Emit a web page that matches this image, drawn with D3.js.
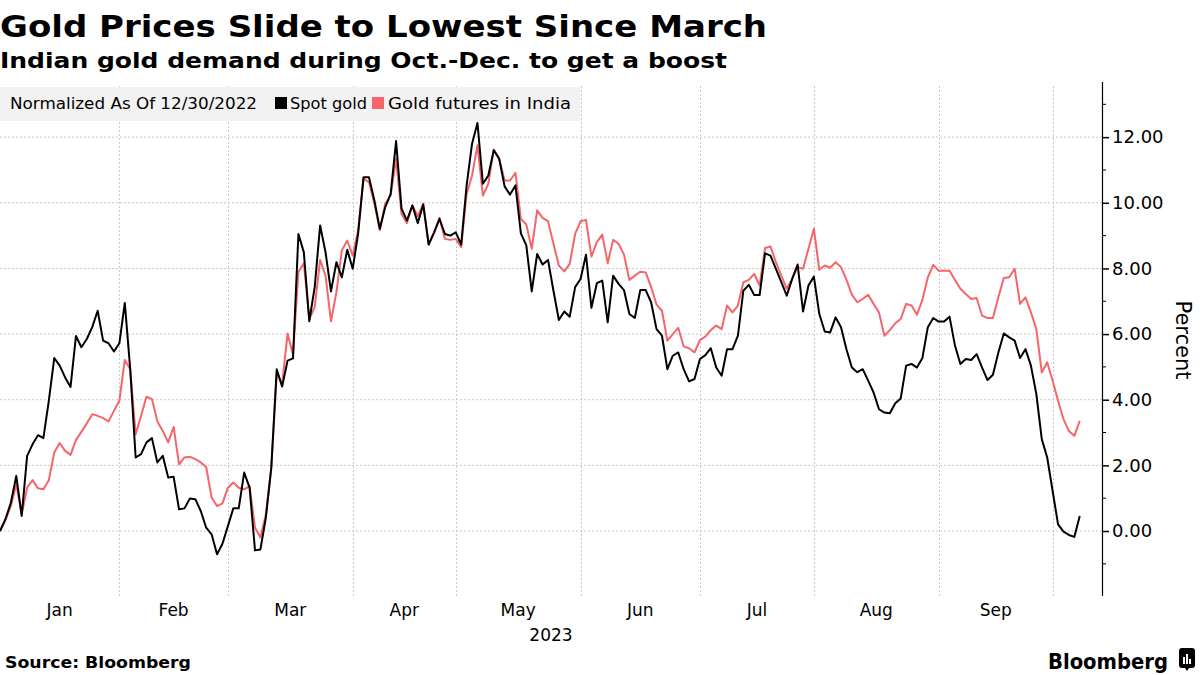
<!DOCTYPE html>
<html><head><meta charset="utf-8">
<script src="https://cdn.jsdelivr.net/npm/d3@7"></script>
<style>
html,body{margin:0;padding:0;background:#fff;}
svg{display:block;font-family:"DejaVu Sans",Verdana,sans-serif;}
</style></head>
<body>
<svg id="chart" width="1200" height="675"></svg>
<script>
// ---- data (normalized % change since 12/30/2022, one value per trading day) ----
const spotGold = [0.00,0.36,0.86,1.68,0.46,2.29,2.64,2.92,2.83,3.97,5.27,5.04,4.68,4.39,5.94,5.60,5.85,6.21,6.71,5.80,
5.72,5.47,5.72,6.95,4.93,2.24,2.34,2.70,2.83,2.09,2.29,1.63,1.65,0.66,0.69,0.99,0.97,0.61,0.10,-0.10,
-0.71,-0.39,0.15,0.69,0.69,1.78,1.32,-0.59,-0.56,0.41,1.93,4.93,4.40,5.19,5.26,9.05,8.49,6.39,7.43,9.31,
8.49,7.30,8.19,7.73,8.57,7.99,9.05,10.78,10.78,10.07,9.21,9.87,10.27,11.88,9.82,9.46,9.92,9.38,9.95,8.73,
9.10,9.51,9.05,9.00,9.10,8.73,10.53,11.80,12.43,10.58,10.83,11.60,11.34,10.50,10.25,10.53,9.07,8.70,7.30,8.44,
8.12,8.26,7.32,6.43,6.69,6.53,7.43,7.68,8.42,6.80,7.55,7.63,6.36,7.78,7.53,7.34,6.61,6.49,7.34,7.34,
6.97,6.15,5.95,4.93,5.34,5.44,4.93,4.56,4.63,5.24,5.36,5.57,4.98,4.73,5.54,5.54,5.95,7.32,7.50,7.19,
7.19,8.46,8.39,7.99,7.58,7.17,7.68,8.12,6.69,7.48,7.75,6.61,6.08,6.05,6.51,6.21,5.54,4.98,4.84,4.93,
4.58,4.22,3.71,3.61,3.59,3.89,4.04,5.04,5.09,4.98,5.27,6.21,6.49,6.38,6.38,6.53,5.65,5.09,5.24,5.21,
5.39,4.98,4.60,4.76,5.44,6.02,5.90,5.80,5.27,5.54,5.04,4.17,2.80,2.24,1.22,0.20,-0.02,-0.12,-0.18,0.46];

const indiaFutures = [0.00,0.33,0.76,1.42,0.51,1.32,1.55,1.30,1.27,1.55,2.39,2.68,2.44,2.32,2.77,3.02,3.28,3.56,3.51,3.44,
3.34,3.66,3.97,5.21,4.93,2.95,3.51,4.09,4.02,3.34,3.05,2.70,3.17,2.03,2.24,2.26,2.19,2.09,1.95,1.02,
0.76,0.84,1.32,1.48,1.32,1.27,1.37,0.10,-0.20,0.51,1.93,4.78,4.48,6.02,5.37,7.90,8.16,6.46,6.82,8.26,
7.78,6.39,7.27,8.55,8.85,8.39,9.16,10.73,10.63,9.97,9.16,9.97,10.22,11.34,9.66,9.38,9.92,9.59,9.97,8.73,
9.07,9.54,8.90,8.87,8.90,8.65,10.27,10.83,11.75,10.22,10.58,11.62,11.34,10.68,10.68,10.91,9.51,9.34,8.60,9.77,
9.54,9.44,8.75,8.09,7.91,8.14,9.05,9.44,9.48,8.36,8.80,9.03,8.16,8.87,8.75,8.42,7.65,7.78,7.90,7.88,
7.43,6.90,6.71,5.80,6.00,6.19,5.62,5.57,5.44,5.82,5.92,6.12,6.26,6.15,6.87,6.66,6.87,7.58,7.65,7.83,
7.48,8.62,8.67,8.19,7.78,7.38,7.68,8.04,7.99,8.60,9.21,7.96,8.09,8.02,8.19,8.04,7.66,7.20,6.97,7.07,
7.20,6.92,6.66,5.95,6.12,6.33,6.46,6.92,6.87,6.59,7.04,7.73,8.11,7.93,7.93,7.93,7.65,7.38,7.22,7.07,
7.10,6.56,6.49,6.49,7.12,7.71,7.73,7.99,6.92,7.12,6.66,6.15,4.83,5.14,4.58,3.97,3.41,3.05,2.90,3.36];

const monthLabels = ["Jan","Feb","Mar","Apr","May","Jun","Jul","Aug","Sep"];
const monthStarts = [0,22,42,65,84,107,129,150,173,194]; // trading-day index of each month boundary
const yearLabel = "2023";
const yMajorTicks = [0,2,4,6,8,10,12];
const yMinorTicks = [-1,1,3,5,7,9,11,13];

const titleText = "Gold Prices Slide to Lowest Since March";
const subtitleText = "Indian gold demand during Oct.-Dec. to get a boost";
const legendNote = "Normalized As Of 12/30/2022";
const seriesNames = ["Spot gold","Gold futures in India"];
const seriesColors = ["#000000","#f4666b"];
const axisTitle = "Percent";
const sourceText = "Source: Bloomberg";

// ---- layout ----
const svg = d3.select("#chart");
const plot = {left:0, right:1102, top:82, bottom:596};

const x = d3.scaleLinear().domain([0, 203.1]).range([plot.left, plot.right]);
const y = d3.scaleLinear().domain([-1.98, 13.68]).range([plot.bottom, plot.top]);

function fitText(sel, target){
  const node = sel.node();
  const w = node.getComputedTextLength();
  if (Math.abs(w - target) / target > 0.01){
    sel.attr("textLength", target).attr("lengthAdjust","spacingAndGlyphs");
  }
  return sel;
}

// titles
fitText(svg.append("text").attr("x",0).attr("y",37).attr("font-size",31).attr("font-weight","bold")
  .attr("fill","#000").text(titleText), 767);
fitText(svg.append("text").attr("x",0).attr("y",68).attr("font-size",22).attr("font-weight","bold")
  .attr("fill","#000").text(subtitleText), 727);

// grid
const g = svg.append("g");
g.selectAll("line.hgrid").data(yMajorTicks).enter().append("line")
  .attr("x1",plot.left).attr("x2",plot.right)
  .attr("y1",d=>y(d)).attr("y2",d=>y(d))
  .attr("stroke","#c8c8c8").attr("stroke-width",1).attr("stroke-dasharray","2,2");
g.selectAll("line.vgrid").data(monthStarts.slice(1)).enter().append("line")
  .attr("x1",d=>Math.round(x(d))+0.5).attr("x2",d=>Math.round(x(d))+0.5)
  .attr("y1",plot.top+4).attr("y2",plot.bottom)
  .attr("stroke","#c8c8c8").attr("stroke-width",1).attr("stroke-dasharray","2,2");

// legend box
const leg = svg.append("g");
leg.append("rect").attr("x",0).attr("y",87).attr("width",580).attr("height",34).attr("fill","#f2f2f2");
fitText(leg.append("text").attr("x",10).attr("y",109).attr("font-size",16).attr("fill","#000").text(legendNote), 247);
leg.append("rect").attr("x",275).attr("y",97).attr("width",12).attr("height",12).attr("fill",seriesColors[0]);
fitText(leg.append("text").attr("x",290).attr("y",109).attr("font-size",16).attr("fill","#000").text(seriesNames[0]), 77);
leg.append("rect").attr("x",372).attr("y",97).attr("width",12).attr("height",12).attr("fill",seriesColors[1]);
fitText(leg.append("text").attr("x",388).attr("y",109).attr("font-size",16).attr("fill","#000").text(seriesNames[1]), 183);

// lines
const line = d3.line().x((d,i)=>x(i)).y(d=>y(d));
svg.append("path").datum(indiaFutures).attr("d",line).attr("fill","none")
  .attr("stroke",seriesColors[1]).attr("stroke-width",2).attr("stroke-linejoin","round");
svg.append("path").datum(spotGold).attr("d",line).attr("fill","none")
  .attr("stroke",seriesColors[0]).attr("stroke-width",2).attr("stroke-linejoin","round");

// right axis
const yAxis = d3.axisRight(y).tickValues(yMajorTicks).tickFormat(d3.format(".2f")).tickSize(7).tickPadding(3);
const ya = svg.append("g").attr("transform",`translate(${plot.right},0)`).call(yAxis);
ya.select(".domain").attr("stroke","#000").attr("stroke-width",1.2).attr("d",`M0.5,${plot.top}V${plot.bottom}`);
ya.selectAll(".tick line").attr("stroke","#000").attr("stroke-width",1.5);
ya.selectAll(".tick text").attr("font-size",18).attr("fill","#000").attr("font-family","DejaVu Sans");
ya.selectAll("line.minor").data(yMinorTicks).enter().append("line").attr("class","minor")
  .attr("x1",0).attr("x2",4).attr("y1",d=>y(d)).attr("y2",d=>y(d)).attr("stroke","#000");

svg.append("text").attr("transform",`translate(1176,340) rotate(90)`).attr("text-anchor","middle")
  .attr("font-size",21).attr("fill","#000").text(axisTitle);

// x axis month labels
const mids = monthLabels.map((m,i)=>({m, c:(monthStarts[i]+monthStarts[i+1])/2}));
svg.selectAll("text.month").data(mids).enter().append("text").attr("class","month")
  .attr("x",d=>x(d.c)).attr("y",616).attr("text-anchor","middle").attr("font-size",17).attr("fill","#000")
  .text(d=>d.m);
svg.append("text").attr("x",551).attr("y",641).attr("text-anchor","middle").attr("font-size",17)
  .attr("fill","#000").text(yearLabel);

// footer
fitText(svg.append("text").attr("x",5).attr("y",668).attr("font-size",16).attr("font-weight","bold")
  .attr("fill","#000").text(sourceText), 186);
fitText(svg.append("text").attr("x",1048).attr("y",669).attr("font-size",21).attr("font-weight","bold")
  .attr("fill","#000").text("Bloomberg"), 120);
const logo = svg.append("g").attr("transform","translate(1179,648)");
logo.append("path").attr("d","M3,0H13A3,3 0 0 1 16,3V17A3,3 0 0 1 13,20H10L8,23L6,20H3A3,3 0 0 1 0,17V3A3,3 0 0 1 3,0Z").attr("fill","#000");
[[4,9,2,7],[7,6,2,10],[10,11,2,5]].forEach(b=>logo.append("rect").attr("x",b[0]).attr("y",b[1]).attr("width",b[2]).attr("height",b[3]).attr("fill","#fff"));
</script>
</body></html>
